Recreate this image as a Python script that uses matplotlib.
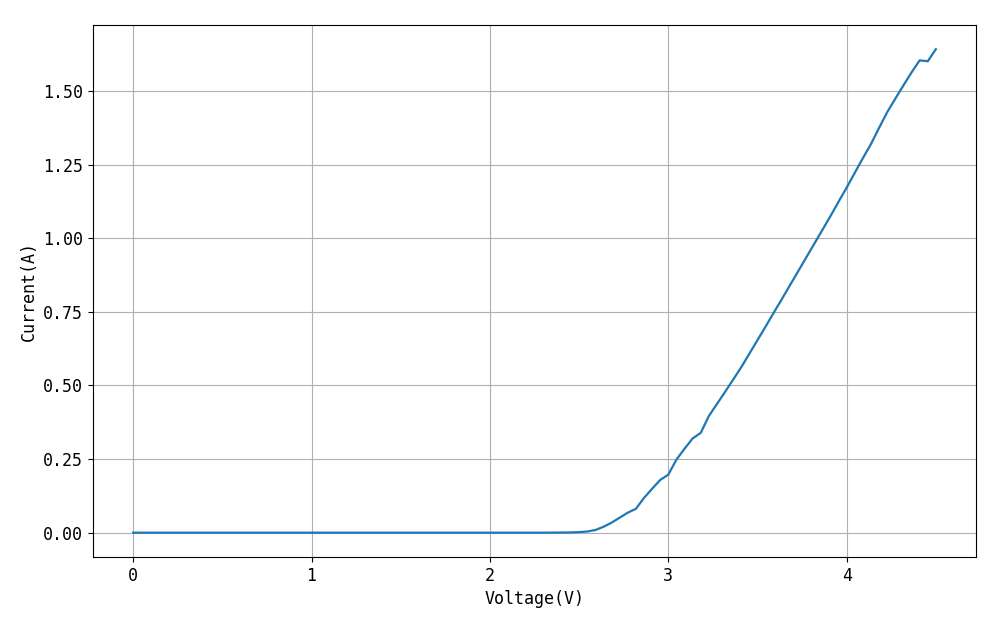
import numpy as np
import matplotlib
matplotlib.use('Agg')
import matplotlib.pyplot as plt

# voltage sweep, 100 points from 0 to 4.5 V
voltage = np.linspace(0, 4.5, 100)
current = [0.0] * 50 + [
    0.0, 0.0001, 0.0003, 0.0006, 0.001,
    0.002, 0.004, 0.009, 0.020, 0.034,
    0.051, 0.068, 0.081, 0.118, 0.149,
    0.179, 0.197, 0.248, 0.285, 0.320,
    0.339, 0.396, 0.437, 0.478, 0.520,
    0.562, 0.608, 0.654, 0.700, 0.747,
    0.793, 0.840, 0.887, 0.934, 0.981,
    1.028, 1.075, 1.124, 1.172, 1.222,
    1.272, 1.320, 1.375, 1.428, 1.474,
    1.519, 1.563, 1.604, 1.601, 1.642,
]

plt.rcParams['font.family'] = ['DejaVu Sans Mono', 'Noto Sans CJK SC']
plt.rcParams['font.size'] = 12

fig = plt.figure(figsize=(10, 6.25), dpi=100)
ax = fig.add_axes([0.093, 0.109, 0.883, 0.851])
ax.plot(voltage, current, color='#1f77b4', linewidth=1.6)
ax.grid(True)
ax.set_xlabel('Voltage(V)')
ax.set_ylabel('Current(A)')
ax.set_xticks([0, 1, 2, 3, 4])
ax.set_yticks([0, 0.25, 0.5, 0.75, 1.0, 1.25, 1.5])
ax.set_yticklabels(['0.00', '0.25', '0.50', '0.75', '1.00', '1.25', '1.50'])
fig.savefig('out.png')
